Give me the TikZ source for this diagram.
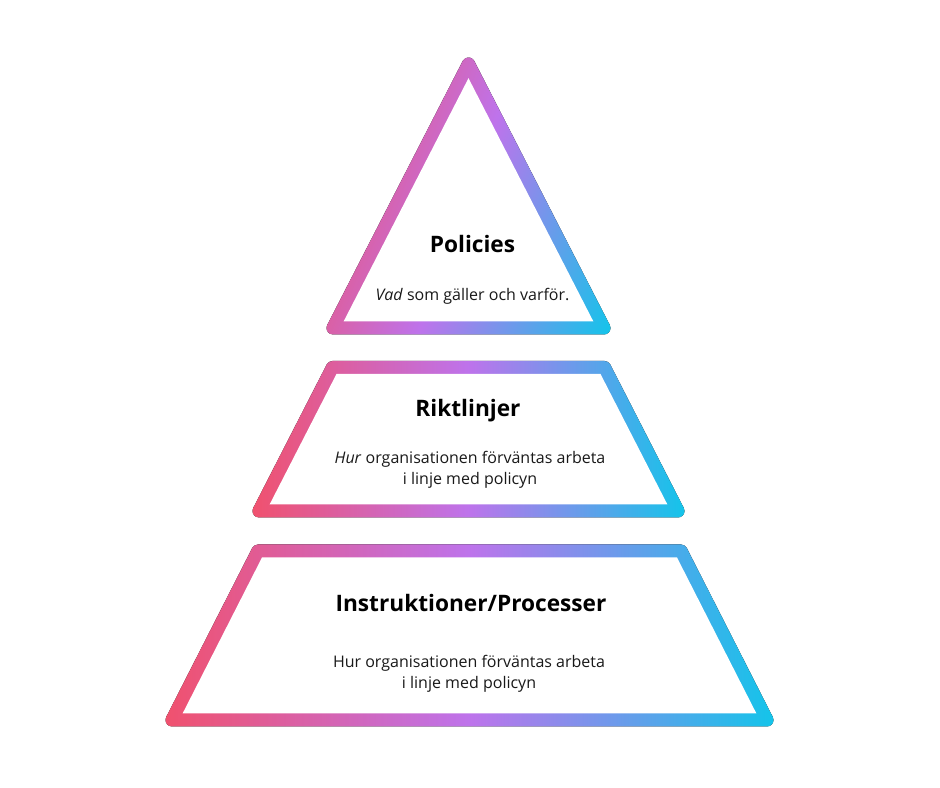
\documentclass[tikz,border=0pt]{standalone}
\usepackage{fontspec}
\setmainfont{Open Sans}
\usetikzlibrary{calc}
\definecolor{gA}{HTML}{F0516E}
\definecolor{gB}{HTML}{BE73EB}
\definecolor{gC}{HTML}{14C4EA}
\pgfdeclarehorizontalshading{trapshade}{100bp}{color(0bp)=(gA); color(25bp)=(gA); color(50bp)=(gB); color(75bp)=(gC); color(100bp)=(gC)}
\pgfdeclarehorizontalshading{trishade}{100bp}{color(0bp)=(gA); color(22bp)=(gA); color(50bp)=(gB); color(82bp)=(gC); color(100bp)=(gC)}
\tikzset{
  titletext/.style={anchor=base, inner sep=0pt, font=\fontsize{17}{20}\selectfont\bfseries, text=black},
  bodytext/.style={anchor=base, inner sep=0pt, font=\fontsize{12}{15.75}\selectfont, text=black!90},
  innerfill/.style={fill=white},
}
\begin{document}
\begin{tikzpicture}[x=0.75pt,y=0.75pt]
\useasboundingbox[fill=white] (0,0) rectangle (940,788);
\def\r{6.5}
% ---------- triangle (Policies)
\coordinate (tA) at (468.5,724);
\coordinate (tB) at (604,460);
\coordinate (tC) at (333,460);
\fill[shading=trishade, shading angle=-20]
  ($(tC)+(-90:\r)$) -- ($(tB)+(-90:\r)$) arc[start angle=-90,end angle=27.17,radius=\r]
  -- ($(tA)+(27.17:\r)$) arc[start angle=27.17,end angle=152.83,radius=\r]
  -- ($(tC)+(152.83:\r)$) arc[start angle=152.83,end angle=270,radius=\r] -- cycle;
\fill[innerfill] (343.6,466.5) -- (593.4,466.5) -- (468.5,709.8) -- cycle;
% ---------- middle trapezoid (Riktlinjer)
\coordinate (mBL) at (259,277);
\coordinate (mBR) at (678,277);
\coordinate (mTR) at (604.5,420.5);
\coordinate (mTL) at (332.5,420.5);
\fill[shading=trapshade]
  ($(mBL)+(-90:\r)$) -- ($(mBR)+(-90:\r)$) arc[start angle=-90,end angle=27.12,radius=\r]
  -- ($(mTR)+(27.12:\r)$) arc[start angle=27.12,end angle=90,radius=\r]
  -- ($(mTL)+(90:\r)$) arc[start angle=90,end angle=152.88,radius=\r]
  -- ($(mBL)+(152.88:\r)$) arc[start angle=152.88,end angle=270,radius=\r] -- cycle;
\fill[innerfill] (269.6,283.5) -- (667.4,283.5) -- (600.5,414) -- (336.5,414) -- cycle;
% ---------- bottom trapezoid (Instruktioner/Processer)
\coordinate (bBL) at (172,68);
\coordinate (bBR) at (767,68);
\coordinate (bTR) at (681,237);
\coordinate (bTL) at (258,237);
\fill[shading=trapshade]
  ($(bBL)+(-90:\r)$) -- ($(bBR)+(-90:\r)$) arc[start angle=-90,end angle=26.97,radius=\r]
  -- ($(bTR)+(26.97:\r)$) arc[start angle=26.97,end angle=90,radius=\r]
  -- ($(bTL)+(90:\r)$) arc[start angle=90,end angle=153.03,radius=\r]
  -- ($(bBL)+(153.03:\r)$) arc[start angle=153.03,end angle=270,radius=\r] -- cycle;
\fill[innerfill] (182.6,74.5) -- (756.4,74.5) -- (677.0,230.5) -- (262.0,230.5) -- cycle;
% ---------- texts
\node[titletext] (pol) at (472.5,535) {Policies};
\node[bodytext] (poltxt) at (472.5,487.5) {\textit{Vad} som gäller och varför.};
\node[titletext] (rik) at (468,371) {Riktlinjer};
\node[bodytext] (riktxta) at (470,324) {\textit{Hur} organisationen förväntas arbeta};
\node[bodytext] (riktxtb) at (470,303) {i linje med policyn};
\node[titletext] (ins) at (471,176) {Instruktioner/Processer};
\node[bodytext] (instxta) at (469,120) {Hur organisationen förväntas arbeta};
\node[bodytext] (instxtb) at (469,99) {i linje med policyn};
\end{tikzpicture}
\end{document}
